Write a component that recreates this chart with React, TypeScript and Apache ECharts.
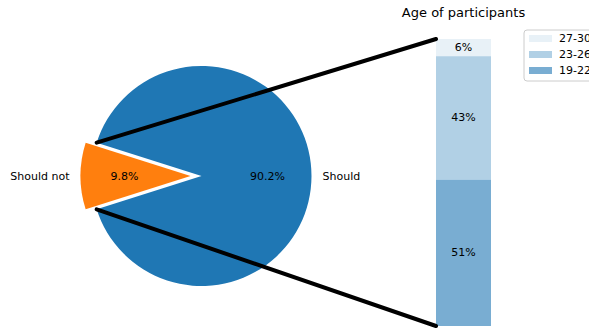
import React, { useEffect, useRef } from "react";
import * as echarts from "echarts";

const pieNames = ["Should", "Should not"];
const pieValues = [90.2, 9.8];
const pieColors = ["#1f77b4", "#ff7f0e"];

const ageLabels = ["19-22", "23-26", "27-30"];
const ageValues = [51, 43, 6];
const ageAlphas = [0.6, 0.35, 0.1];
const legendOrder = ["27-30", "23-26", "19-22"];

const FONT = "DejaVu Sans";

export default function App() {
  const ref = useRef<HTMLDivElement>(null);
  useEffect(() => {
    if (!ref.current) return;
    const chart = echarts.init(ref.current, undefined, { renderer: "svg" });

    const cx = 201.5;
    const cy = 176;
    const r = 110;
    const explode = 11;
    const total = pieValues.reduce((a, b) => a + b, 0);
    const bigSpan = (pieValues[0] / total) * 360;
    const smallSpan = (pieValues[1] / total) * 360;
    const startAngle = 180 - smallSpan / 2; // ECharts, clockwise
    const rad = (d: number) => (d * Math.PI) / 180;

    // geometry of bar grid
    const gLeft = 436, gTop = 39, gW = 55, gH = 287;

    // mid angles (math convention, ccw from +x)
    const bigMid = startAngle - bigSpan / 2;
    const smallMid = startAngle + smallSpan / 2;
    const mids = [bigMid, smallMid];
    const offsets = [0, explode];

    const texts: any[] = [];
    mids.forEach((m, i) => {
      const ox = cx + offsets[i] * Math.cos(rad(m));
      const oy = cy - offsets[i] * Math.sin(rad(m));
      const pct = ((pieValues[i] / total) * 100).toFixed(1) + "%";
      texts.push({
        type: "text",
        x: ox + 0.6 * r * Math.cos(rad(m)),
        y: oy - 0.6 * r * Math.sin(rad(m)),
        style: { text: pct, font: `11px '${FONT}'`, fill: "#000", align: "center", verticalAlign: "middle" },
        z: 10,
      });
      const lx = ox + 1.1 * r * Math.cos(rad(m));
      const ly = oy - 1.1 * r * Math.sin(rad(m));
      texts.push({
        type: "text",
        x: lx,
        y: ly,
        style: {
          text: pieNames[i],
          font: `11px '${FONT}'`,
          fill: "#000",
          align: Math.cos(rad(m)) >= 0 ? "left" : "right",
          verticalAlign: "middle",
        },
        z: 10,
      });
    });

    const aTop = startAngle;
    const aBot = startAngle + smallSpan;
    const edgeTop = { x: cx + r * Math.cos(rad(aTop)), y: cy - r * Math.sin(rad(aTop)) };
    const edgeBot = { x: cx + r * Math.cos(rad(aBot)), y: cy - r * Math.sin(rad(aBot)) };

    const lines = [
      { type: "line", shape: { x1: edgeTop.x, y1: edgeTop.y, x2: gLeft, y2: gTop }, style: { stroke: "#000", lineWidth: 4, lineCap: "round" }, z: 20 },
      { type: "line", shape: { x1: edgeBot.x, y1: edgeBot.y, x2: gLeft, y2: gTop + gH }, style: { stroke: "#000", lineWidth: 4, lineCap: "round" }, z: 20 },
    ];

    chart.setOption({
      animation: false,
      title: {
        text: "Age of participants",
        left: gLeft + gW / 2,
        textAlign: "center",
        top: 6,
        padding: 0,
        textStyle: { fontFamily: FONT, fontSize: 13, fontWeight: "normal", color: "#000" },
      },
      legend: {
        data: legendOrder,
        orient: "vertical",
        left: 524,
        top: 30,
        padding: [3, 40, 5, 5],
        itemWidth: 23,
        itemHeight: 7,
        itemGap: 5,
        icon: "rect",
        borderColor: "#cccccc",
        borderWidth: 1,
        borderRadius: 3,
        textStyle: { fontFamily: FONT, fontSize: 11, color: "#000", padding: [0, 0, 0, 2] },
      },
      grid: { left: gLeft, top: gTop, width: gW, height: gH },
      xAxis: { type: "category", data: ["age"], show: false },
      yAxis: { type: "value", min: 0, max: 100, show: false },
      series: [
        {
          type: "pie",
          center: [cx, cy],
          radius: [0, r],
          startAngle,
          clockwise: true,
          selectedMode: "single",
          selectedOffset: explode,
          label: { show: false },
          labelLine: { show: false },
          emphasis: { disabled: true },
          itemStyle: { borderWidth: 0 },
          data: pieNames.map((n, i) => ({
            name: n,
            value: pieValues[i],
            selected: i === 1,
            itemStyle: { color: pieColors[i] },
          })),
        },
        ...ageLabels.map((lab, i) => ({
          type: "bar",
          name: lab,
          stack: "age",
          barWidth: "100%",
          data: [ageValues[i]],
          itemStyle: { color: `rgba(31,119,180,${ageAlphas[i]})` },
          emphasis: { disabled: true },
          label: {
            show: true,
            position: "inside",
            formatter: (p: any) => `${p.value}%`,
            fontFamily: FONT,
            fontSize: 11,
            color: "#000",
          },
        })),
      ],
      graphic: [...lines, ...texts],
    });

    return () => chart.dispose();
  }, []);

  return (
    <div
      ref={ref}
      style={{ position: "fixed", left: 0, top: 0, width: 589, height: 330, background: "#fff" }}
    />
  );
}
